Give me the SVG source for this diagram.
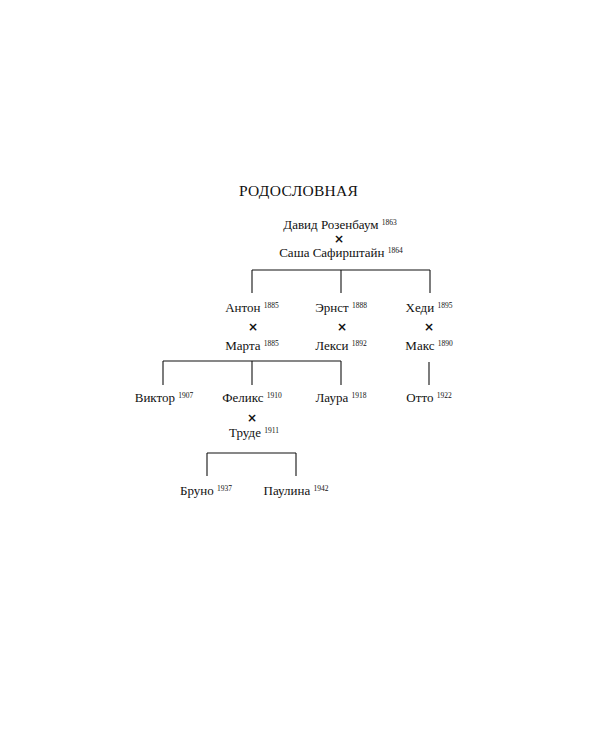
<svg xmlns="http://www.w3.org/2000/svg" width="600" height="750" viewBox="0 0 600 750">
<style>
.n{font-family:"Liberation Serif","Times New Roman",serif;font-size:13px;fill:#111;text-anchor:middle}
.s{font-size:7.5px}
.x{font-family:"DejaVu Sans",sans-serif;font-size:12px;font-weight:bold;fill:#111;text-anchor:middle}
.t{font-family:"Liberation Serif","Times New Roman",serif;font-size:15.5px;fill:#111;letter-spacing:0.3px}
.c line{stroke:#111;stroke-width:1.1}
</style>
<rect width="600" height="750" fill="#fff"/>
<text class="t" x="239" y="196">РОДОСЛОВНАЯ</text>
<g class="c">
<line x1="252" y1="270" x2="430" y2="270"/>
<line x1="341" y1="270" x2="341" y2="293"/>
<line x1="252" y1="270" x2="252" y2="293"/>
<line x1="430" y1="270" x2="430" y2="293"/>
<line x1="163" y1="361" x2="341" y2="361"/>
<line x1="252" y1="361" x2="252" y2="385"/>
<line x1="163" y1="361" x2="163" y2="385"/>
<line x1="341" y1="361" x2="341" y2="385"/>
<line x1="429" y1="362" x2="429" y2="385"/>
<line x1="207" y1="453" x2="296" y2="453"/>
<line x1="207" y1="453" x2="207" y2="476"/>
<line x1="296" y1="453" x2="296" y2="476"/>
</g>
<g id="david"><text class="n" x="340" y="229">Давид Розенбаум <tspan class="s" dy="-4.5">1863</tspan></text></g>
<g id="m1"><text class="x" x="339" y="242.5">×</text></g>
<g id="sasha"><text class="n" x="341" y="257">Саша Сафирштайн <tspan class="s" dy="-4.5">1864</tspan></text></g>
<g id="anton"><text class="n" x="252" y="312">Антон <tspan class="s" dy="-4.5">1885</tspan></text></g>
<g id="m2"><text class="x" x="253" y="331">×</text></g>
<g id="marta"><text class="n" x="252" y="350">Марта <tspan class="s" dy="-4.5">1885</tspan></text></g>
<g id="ernst"><text class="n" x="341" y="312">Эрнст <tspan class="s" dy="-4.5">1888</tspan></text></g>
<g id="m3"><text class="x" x="342" y="331">×</text></g>
<g id="lexi"><text class="n" x="341" y="350">Лекси <tspan class="s" dy="-4.5">1892</tspan></text></g>
<g id="hedi"><text class="n" x="429" y="312">Хеди <tspan class="s" dy="-4.5">1895</tspan></text></g>
<g id="m4"><text class="x" x="429" y="331">×</text></g>
<g id="max"><text class="n" x="429" y="350">Макс <tspan class="s" dy="-4.5">1890</tspan></text></g>
<g id="viktor"><text class="n" x="164" y="402">Виктор <tspan class="s" dy="-4.5">1907</tspan></text></g>
<g id="felix"><text class="n" x="252" y="402">Феликс <tspan class="s" dy="-4.5">1910</tspan></text></g>
<g id="m5"><text class="x" x="252" y="422">×</text></g>
<g id="trude"><text class="n" x="254" y="437">Труде <tspan class="s" dy="-4.5">1911</tspan></text></g>
<g id="laura"><text class="n" x="341" y="402">Лаура <tspan class="s" dy="-4.5">1918</tspan></text></g>
<g id="otto"><text class="n" x="429" y="402">Отто <tspan class="s" dy="-4.5">1922</tspan></text></g>
<g id="bruno"><text class="n" x="206" y="495">Бруно <tspan class="s" dy="-4.5">1937</tspan></text></g>
<g id="paulina"><text class="n" x="296" y="495">Паулина <tspan class="s" dy="-4.5">1942</tspan></text></g>
</svg>
